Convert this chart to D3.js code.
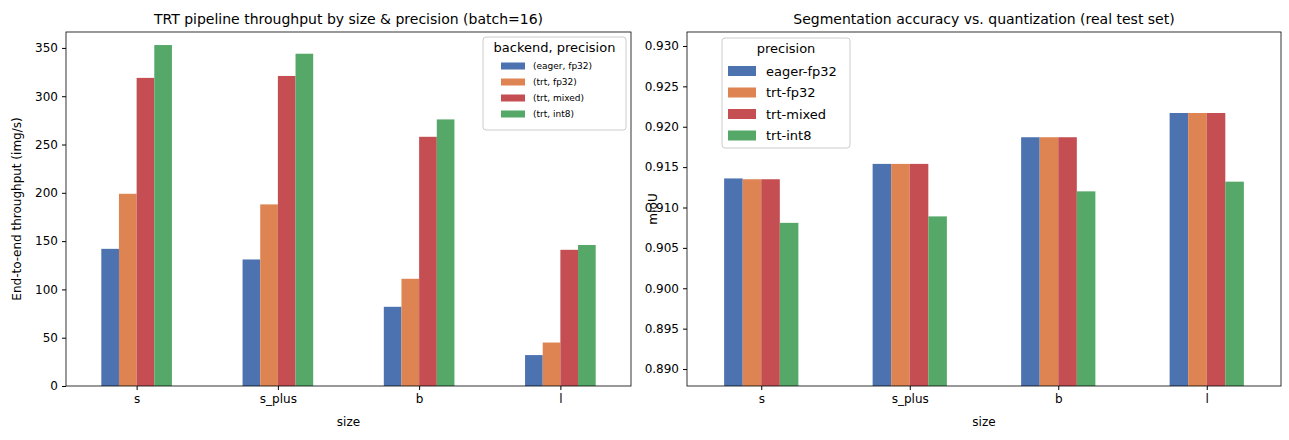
<!DOCTYPE html><html><head><meta charset="utf-8">
<script src="https://cdn.jsdelivr.net/npm/d3@7"></script>
<style>body{margin:0;background:#fff}text{font-family:"DejaVu Sans",sans-serif;fill:#000}</style></head>
<body><svg id="c" width="1289" height="440"></svg>
<script>
const sizes=["s","s_plus","b","l"];
const colors=["#4C72B0","#DD8452","#C44E52","#55A868"];
const leftSeries=["(eager, fp32)","(trt, fp32)","(trt, mixed)","(trt, int8)"];
const leftValues=[[142,131,82,32],[199,188,111,45],[319,321,258,141],[353,344,276,146]];
const leftTicks=[0,50,100,150,200,250,300,350];
const rightSeries=["eager-fp32","trt-fp32","trt-mixed","trt-int8"];
const rightValues=[[0.9136,0.9154,0.9187,0.9217],[0.9135,0.9154,0.9187,0.9217],[0.9135,0.9154,0.9187,0.9217],[0.9081,0.9089,0.9120,0.9132]];
const rightTicks=[0.890,0.895,0.900,0.905,0.910,0.915,0.920,0.925,0.930];
const svg=d3.select("#c");
function panel(o){
  const g=svg.append("g");
  const x=d3.scalePoint().domain(sizes).range([o.x0,o.x1]).padding(0.5);
  const y=d3.scaleLinear().domain(o.dom).range([386,32]);
  const bw=x.step()*0.5/4;
  o.values.forEach((vals,si)=>{
    g.selectAll(null).data(vals).enter().append("rect")
     .attr("x",(d,i)=>x(sizes[i])-2*bw+si*bw).attr("width",bw)
     .attr("y",d=>y(d)).attr("height",d=>386-y(d)).attr("fill",colors[si]);
  });
  g.append("g").attr("transform","translate(0,386)").call(d3.axisBottom(x).tickSize(4).tickPadding(4))
   .call(a=>a.selectAll("text").attr("font-size",12).attr("font-family","DejaVu Sans"));
  g.append("g").attr("transform",`translate(${o.x0},0)`).call(d3.axisLeft(y).tickValues(o.ticks).tickFormat(o.fmt).tickSize(4).tickPadding(4))
   .call(a=>a.selectAll("text").attr("font-size",12).attr("font-family","DejaVu Sans"));
  g.selectAll(".domain").remove();
  g.append("rect").attr("x",o.x0).attr("y",32).attr("width",o.x1-o.x0).attr("height",354).attr("fill","none").attr("stroke","#000").attr("stroke-width",0.8);
  g.append("text").attr("x",(o.x0+o.x1)/2).attr("y",24).attr("text-anchor","middle").attr("font-size",14).text(o.title);
  g.append("text").attr("x",(o.x0+o.x1)/2).attr("y",426).attr("text-anchor","middle").attr("font-size",12).text("size");
  g.append("text").attr("transform",`translate(${o.yl},209) rotate(-90)`).attr("text-anchor","middle").attr("font-size",12).text(o.ylabel);
  const L=o.leg;
  g.append("rect").attr("x",L.x).attr("y",L.y).attr("width",L.w).attr("height",L.h).attr("rx",3).attr("fill","#fff").attr("fill-opacity",0.8).attr("stroke","#ccc");
  g.append("text").attr("x",L.x+L.w/2).attr("y",L.y+15).attr("text-anchor","middle").attr("font-size",13).text(L.title);
  o.series.forEach((s,i)=>{
    const yy=L.y+L.first+i*L.gap;
    g.append("rect").attr("x",L.x+L.sx).attr("y",yy-L.sh/2).attr("width",L.sw).attr("height",L.sh).attr("fill",colors[i]);
    g.append("text").attr("x",L.x+L.sx+L.sw+L.tp).attr("y",yy).attr("dy","0.35em").attr("font-size",L.fs).text(s);
  });
}
panel({x0:66,x1:631,dom:[0,366.5],ticks:leftTicks,fmt:d3.format("d"),values:leftValues,series:leftSeries,
  title:"TRT pipeline throughput by size & precision (batch=16)",ylabel:"End-to-end throughput (img/s)",yl:21,
  leg:{x:483,y:37,w:143,h:93,title:"backend, precision",first:29,gap:16,sx:18,sw:24,sh:7,tp:8,fs:9}});
panel({x0:687,x1:1281,dom:[0.88790,0.93173],ticks:rightTicks,fmt:d3.format(".3f"),values:rightValues,series:rightSeries,
  title:"Segmentation accuracy vs. quantization (real test set)",ylabel:"mIoU",yl:657,
  leg:{x:722,y:38,w:128,h:110,title:"precision",first:33,gap:21.5,sx:6,sw:28,sh:10,tp:10,fs:13}});
</script></body></html>
